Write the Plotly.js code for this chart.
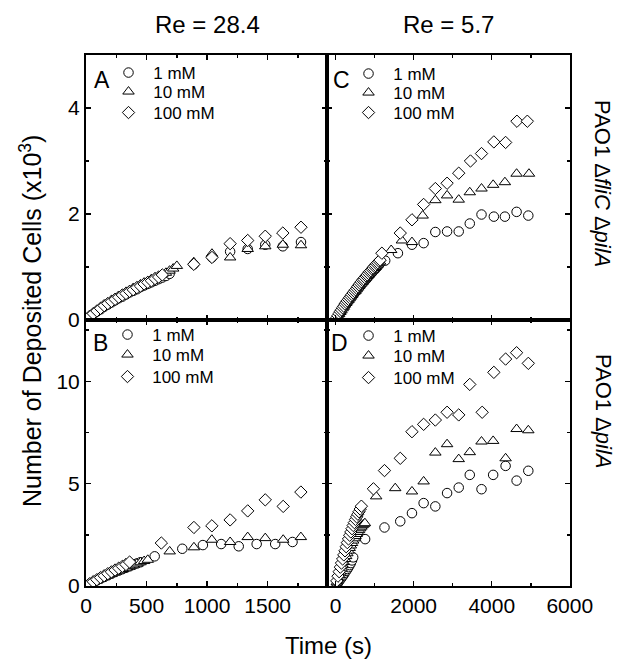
<!DOCTYPE html>
<html>
<head>
<meta charset="utf-8">
<script src="https://cdn.plot.ly/plotly-3.0.1.min.js"></script>
<style>html,body{margin:0;padding:0;background:#fff;}#chart{width:623px;height:661px;}</style>
</head>
<body>
<div id="chart"></div>
<script>
// ---------- Data (time in s, deposited cells in units of 10^3) ----------
// Panel A: Re = 28.4, PAO1 ΔfliC ΔpilA
var tA_1 = [30,60,90,120,150,180,210,240,270,300,330,360,390,420,450,480,510,540,570,600,630,660,690,890,1040,1190,1335,1480,1625,1775];
var yA_1 = [0.06,0.11,0.16,0.20,0.25,0.29,0.33,0.37,0.41,0.44,0.48,0.52,0.55,0.58,0.62,0.65,0.68,0.71,0.74,0.77,0.80,0.83,0.87,1.05,1.18,1.29,1.34,1.42,1.39,1.47];
var tA_10 = [30,60,90,120,150,180,210,240,270,300,330,360,390,420,450,480,510,540,570,600,630,660,690,720,750,890,1040,1190,1335,1480,1625,1775];
var yA_10 = [0.07,0.13,0.18,0.23,0.28,0.32,0.37,0.41,0.45,0.49,0.53,0.56,0.60,0.63,0.67,0.70,0.73,0.77,0.80,0.83,0.86,0.89,0.93,0.97,1.02,1.09,1.25,1.18,1.34,1.39,1.42,1.41];
var tA_100 = [30,60,90,120,150,180,210,240,270,300,330,360,390,420,450,480,510,540,570,600,630,890,1040,1190,1335,1480,1625,1775];
var yA_100 = [0.07,0.12,0.17,0.22,0.27,0.31,0.35,0.39,0.43,0.47,0.50,0.54,0.57,0.61,0.64,0.68,0.71,0.74,0.78,0.81,0.85,1.05,1.18,1.44,1.50,1.58,1.64,1.75];

// Panel B: Re = 28.4, PAO1 ΔpilA
var tB_1 = [30,60,90,120,150,180,210,240,270,300,330,360,390,420,450,567,795,965,1116,1261,1409,1562,1705];
var yB_1 = [0.10,0.19,0.28,0.36,0.44,0.52,0.60,0.68,0.75,0.82,0.89,0.96,1.03,1.10,1.16,1.45,1.82,2.00,2.05,1.94,2.05,2.05,2.15];
var tB_10 = [30,60,90,120,150,180,210,240,270,300,330,360,390,420,450,480,510,691,891,1039,1190,1335,1480,1628,1774];
var yB_10 = [0.10,0.19,0.28,0.37,0.45,0.53,0.61,0.69,0.76,0.83,0.90,0.97,1.04,1.10,1.16,1.22,1.28,1.69,1.89,2.26,2.15,2.39,2.34,2.26,2.39];
var tB_100 = [30,60,90,120,150,180,210,240,270,300,330,360,622,891,1039,1190,1335,1480,1628,1774];
var yB_100 = [0.11,0.21,0.31,0.41,0.50,0.60,0.69,0.78,0.87,0.96,1.05,1.17,2.10,2.86,2.94,3.23,3.67,4.21,3.89,4.59];

// Panel C: Re = 5.7, PAO1 ΔfliC ΔpilA
var tC_1 = [30,60,90,120,150,180,210,240,270,300,330,360,390,420,450,480,510,540,570,600,630,660,690,720,750,780,810,840,870,900,930,960,990,1020,1050,1080,1110,1140,1270,1596,1956,2255,2555,2856,3154,3437,3738,4054,4337,4637,4937];
var yC_1 = [0.03,0.07,0.10,0.14,0.17,0.21,0.24,0.27,0.30,0.33,0.36,0.39,0.42,0.45,0.48,0.51,0.53,0.56,0.59,0.62,0.64,0.67,0.70,0.72,0.75,0.77,0.80,0.82,0.85,0.87,0.90,0.92,0.95,0.97,0.99,1.02,1.04,1.07,1.12,1.26,1.42,1.45,1.66,1.67,1.67,1.82,1.99,1.95,1.95,2.04,1.97];
var tC_10 = [30,60,90,120,150,180,210,240,270,300,330,360,390,420,450,480,510,540,570,600,630,660,690,720,750,780,810,840,870,900,930,960,990,1020,1050,1080,1110,1140,1424,1698,1956,2230,2555,2856,3154,3437,3738,4036,4337,4637,4954];
var yC_10 = [0.04,0.07,0.11,0.15,0.18,0.22,0.25,0.29,0.32,0.35,0.38,0.41,0.44,0.47,0.50,0.53,0.55,0.58,0.61,0.64,0.67,0.69,0.72,0.75,0.77,0.80,0.83,0.85,0.88,0.90,0.93,0.95,0.98,1.00,1.03,1.05,1.08,1.10,1.32,1.50,1.47,1.97,2.26,2.35,2.27,2.41,2.48,2.55,2.60,2.76,2.76];
var tC_100 = [30,60,90,120,150,180,210,240,270,300,330,360,390,420,450,480,510,540,570,600,630,660,690,720,750,780,810,840,870,900,930,960,990,1020,1050,1080,1110,1140,1185,1656,1956,2255,2555,2856,3154,3455,3738,4054,4355,4645,4912];
var yC_100 = [0.04,0.08,0.12,0.16,0.19,0.23,0.26,0.30,0.33,0.36,0.39,0.42,0.45,0.48,0.51,0.54,0.57,0.60,0.63,0.66,0.69,0.72,0.75,0.77,0.80,0.83,0.85,0.88,0.91,0.93,0.96,0.98,1.01,1.03,1.06,1.08,1.11,1.13,1.26,1.64,1.89,2.18,2.48,2.58,2.77,3.00,3.14,3.36,3.35,3.75,3.75];

// Panel D: Re = 5.7, PAO1 ΔpilA
var tD_1 = [30,60,90,120,150,180,210,240,270,300,330,360,390,420,450,756,1252,1656,1956,2255,2555,2856,3154,3437,3738,4036,4355,4637,4937];
var yD_1 = [0.08,0.16,0.24,0.32,0.40,0.48,0.56,0.65,0.74,0.83,0.92,1.02,1.12,1.25,1.40,2.29,2.86,3.16,3.56,4.05,3.89,4.54,4.81,5.43,4.73,5.43,5.87,5.15,5.63];
var tD_10 = [30,60,90,120,150,180,210,240,270,300,330,360,390,420,450,480,510,540,570,600,630,660,690,720,750,1039,1527,1956,2255,2555,2856,3154,3437,3738,4036,4355,4637,4937];
var yD_10 = [0.18,0.36,0.53,0.70,0.86,1.02,1.17,1.32,1.46,1.60,1.73,1.86,1.98,2.10,2.22,2.33,2.44,2.54,2.64,2.73,2.82,2.90,2.97,3.02,3.07,4.38,4.78,4.62,5.11,6.52,6.93,6.20,6.54,7.06,7.09,6.24,7.67,7.61];
var tD_100 = [30,60,90,120,150,180,210,240,270,300,330,360,390,420,450,480,510,540,570,600,630,660,969,1252,1656,1956,2255,2555,2856,3154,3437,3755,4054,4355,4637,4937];
var yD_100 = [0.25,0.48,0.70,0.92,1.12,1.32,1.52,1.72,1.92,2.12,2.30,2.48,2.64,2.80,2.96,3.10,3.25,3.38,3.51,3.63,3.76,3.90,4.75,5.64,6.24,7.54,7.90,8.11,8.49,8.36,9.85,8.49,10.44,11.09,11.40,10.88];

var seriesNames = ['1 mM', '10 mM', '100 mM'];
var colTitles = ['Re = 28.4', 'Re = 5.7'];
var panelLetters = ['A', 'C', 'B', 'D'];

// ---------- Styling ----------
var FONT = 'Liberation Sans, Arial, Helvetica, sans-serif';
var symbols = ['circle', 'triangle-up', 'diamond'];
var sizes = [9.5, 10, 9.5];

// legend anchor (paper coords) for each panel: left x, and the centre y of each row
var legendPos = [
  {x: 0.0465, ys: [0.9661, 0.9303, 0.8908]},
  {x: 0.5424, ys: [0.9642, 0.9284, 0.8908]},
  {x: 0.0444, ys: [0.4727, 0.4350, 0.3936]},
  {x: 0.5424, ys: [0.4708, 0.4331, 0.3917]}
];

var panels = [
  {xa: 'x',  ya: 'y',  data: [[tA_1, yA_1], [tA_10, yA_10], [tA_100, yA_100]]},
  {xa: 'x2', ya: 'y2', data: [[tC_1, yC_1], [tC_10, yC_10], [tC_100, yC_100]]},
  {xa: 'x3', ya: 'y3', data: [[tB_1, yB_1], [tB_10, yB_10], [tB_100, yB_100]]},
  {xa: 'x4', ya: 'y4', data: [[tD_1, yD_1], [tD_10, yD_10], [tD_100, yD_100]]}
];

var traces = [];
var legends = {};
var n = 0;
panels.forEach(function (p, pi) {
  p.data.forEach(function (d, i) {
    n += 1;
    var lid = n === 1 ? 'legend' : 'legend' + n;
    legends[lid] = {
      x: legendPos[pi].x, y: legendPos[pi].ys[i], xanchor: 'left', yanchor: 'middle',
      bgcolor: 'rgba(0,0,0,0)', borderwidth: 0,
      font: {family: FONT, size: 17, color: '#000'}
    };
    traces.push({
      type: 'scatter', mode: 'markers',
      x: d[0], y: d[1],
      xaxis: p.xa, yaxis: p.ya,
      name: '\u00a0' + seriesNames[i],
      legend: lid,
      marker: {symbol: symbols[i], size: sizes[i], color: '#ffffff', line: {color: '#000000', width: 1}},
      hoverinfo: 'x+y'
    });
  });
});

function minorCfg(dt) {
  return {ticks: 'inside', ticklen: 3, tickwidth: 1.5, tickcolor: '#000', dtick: dt, showgrid: false};
}
function axisBase(extra) {
  var a = {
    showline: true, linecolor: '#000', linewidth: 2, mirror: 'ticks',
    ticks: 'inside', ticklen: 5, tickwidth: 1.5, tickcolor: '#000',
    showgrid: false, zeroline: false,
    tickfont: {family: FONT, size: 21, color: '#000'}
  };
  for (var k in extra) a[k] = extra[k];
  return a;
}

var xL = 0.498, yM = 0.501;
var letterFont = {family: FONT, size: 23, color: '#000'};
function ann(o) { o.showarrow = false; o.xanchor = 'center'; o.yanchor = 'middle'; return o; }
var annotations = [
  ann({text: colTitles[0], xref: 'paper', yref: 'paper', x: 0.25, y: 1, yshift: 31, font: {family: FONT, size: 24, color: '#000'}}),
  ann({text: colTitles[1], xref: 'paper', yref: 'paper', x: 0.748, y: 1, yshift: 31, font: {family: FONT, size: 24, color: '#000'}}),
  ann({text: panelLetters[0], xref: 'x domain', yref: 'y domain', x: 0.066, y: 0.906, font: letterFont}),
  ann({text: panelLetters[1], xref: 'x2 domain', yref: 'y2 domain', x: 0.058, y: 0.906, font: letterFont}),
  ann({text: panelLetters[2], xref: 'x3 domain', yref: 'y3 domain', x: 0.062, y: 0.914, font: letterFont}),
  ann({text: panelLetters[3], xref: 'x4 domain', yref: 'y4 domain', x: 0.053, y: 0.914, font: letterFont}),
  ann({text: 'Number of Deposited Cells (x10<sup>3</sup>)', xref: 'paper', yref: 'paper', x: 0, xshift: -55, y: 0.499, textangle: -90, font: {family: FONT, size: 25, color: '#000'}}),
  ann({text: 'Time (s)', xref: 'paper', yref: 'paper', x: 0.5, y: 0, yshift: -59, font: {family: FONT, size: 24, color: '#000'}}),
  ann({text: 'PAO1 \u0394<i>fliC</i> \u0394<i>pilA</i>', xref: 'paper', yref: 'paper', x: 1.068, y: 0.757, textangle: 90, font: {family: FONT, size: 22, color: '#000'}}),
  ann({text: 'PAO1 \u0394<i>pilA</i>', xref: 'paper', yref: 'paper', x: 1.068, y: 0.328, textangle: 90, font: {family: FONT, size: 22, color: '#000'}})
];

var layout = {
  width: 623, height: 661,
  margin: {l: 86, r: 53, t: 55, b: 75},
  paper_bgcolor: '#fff', plot_bgcolor: '#fff',
  showlegend: true,
  font: {family: FONT, color: '#000'},
  xaxis:  axisBase({domain: [0, xL], anchor: 'y', range: [0, 1990], dtick: 500, showticklabels: false, minor: minorCfg(250)}),
  yaxis:  axisBase({domain: [yM, 1], anchor: 'x', range: [0, 5], dtick: 2, minor: minorCfg(1)}),
  xaxis2: axisBase({domain: [xL, 1], anchor: 'y2', range: [-220, 6005], dtick: 2000, showticklabels: false, minor: minorCfg(1000)}),
  yaxis2: axisBase({domain: [yM, 1], anchor: 'x2', range: [0, 5], dtick: 2, showticklabels: false, minor: minorCfg(1)}),
  xaxis3: axisBase({domain: [0, xL], anchor: 'y3', range: [0, 1990], dtick: 500, minor: minorCfg(250)}),
  yaxis3: axisBase({domain: [0, yM], anchor: 'x3', range: [0, 13], dtick: 5, minor: minorCfg(2.5)}),
  xaxis4: axisBase({domain: [xL, 1], anchor: 'y4', range: [-220, 6005], dtick: 2000, minor: minorCfg(1000)}),
  yaxis4: axisBase({domain: [0, yM], anchor: 'x4', range: [0, 13], dtick: 5, showticklabels: false, minor: minorCfg(2.5)}),
  annotations: annotations
};
for (var key in legends) layout[key] = legends[key];

Plotly.newPlot('chart', traces, layout, {displayModeBar: false, staticPlot: true});
</script>
</body>
</html>
